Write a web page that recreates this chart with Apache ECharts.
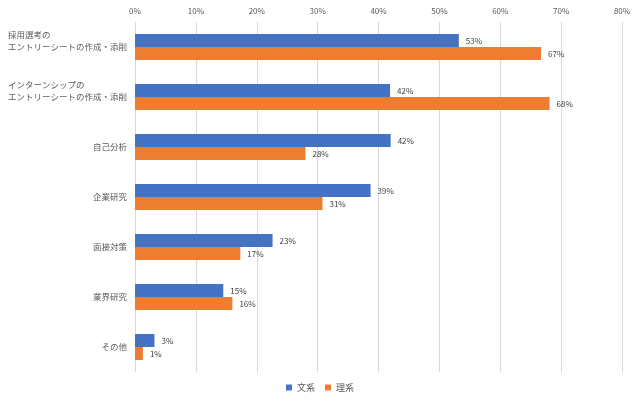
<!DOCTYPE html>
<html><head><meta charset="utf-8">
<script src="https://cdn.jsdelivr.net/npm/echarts@6/dist/echarts.min.js"></script>
<style>html,body{margin:0;padding:0;background:#fff}#c{width:640px;height:404px}</style>
</head><body><div id="c"></div>
<script>
const categories = [
  '採用選考の\nエントリーシートの作成・添削',
  'インターンシップの\nエントリーシートの作成・添削',
  '自己分析', '企業研究', '面接対策', '業界研究', 'その他'
];
const bunkei = [53.2, 41.9, 42.0, 38.7, 22.6, 14.5, 3.2];
const rikei = [66.7, 68.1, 28.0, 30.8, 17.3, 16.0, 1.3];
const seriesNames = ['文系', '理系'];
const xTicks = [0, 10, 20, 30, 40, 50, 60, 70, 80];

const font = '"Noto Sans CJK JP", "Noto Sans", sans-serif';
const chart = echarts.init(document.getElementById('c'));
const lbl = {
  show: true, position: 'right', distance: 7, color: '#404040', fontSize: 8,
  fontFamily: font, formatter: p => Math.round(p.value) + '%'
};
chart.setOption({
  animation: false,
  textStyle: { fontFamily: font },
  grid: { left: 135, right: 18, top: 22, bottom: 32, containLabel: false },
  legend: {
    bottom: 7, left: 'center', itemWidth: 6, itemHeight: 6, itemGap: 10,
    icon: 'rect', textStyle: { fontSize: 9, color: '#595959', fontFamily: font },
    data: seriesNames
  },
  xAxis: {
    type: 'value', position: 'top', min: xTicks[0], max: xTicks[xTicks.length - 1], interval: 10,
    axisLine: { show: false }, axisTick: { show: false },
    axisLabel: { formatter: '{value}%', fontSize: 8, color: '#595959', margin: 7, fontFamily: font },
    splitLine: { lineStyle: { color: '#d9d9d9', width: 1 } }
  },
  yAxis: {
    type: 'category', inverse: true, data: categories,
    axisLine: { show: false }, axisTick: { show: false },
    axisLabel: {
      fontSize: 8.5, color: '#595959', margin: 8, fontFamily: font, lineHeight: 12,
      formatter: v => {
        if (v.indexOf('\n') < 0) return v;
        return v.split('\n').map(s => '{l|' + s + '}').join('\n') + '\n{e| }';
      },
      rich: {
        l: { width: 119, align: 'left', fontSize: 8.5, color: '#595959', lineHeight: 12, fontFamily: font },
        e: { width: 119, fontSize: 8.5, lineHeight: 12 }
      }
    }
  },
  series: [
    { name: seriesNames[0], type: 'bar', data: bunkei, barGap: '0%', barCategoryGap: '48%',
      itemStyle: { color: '#4472C4' }, label: lbl },
    { name: seriesNames[1], type: 'bar', data: rikei, barGap: '0%', barCategoryGap: '48%',
      itemStyle: { color: '#ED7D31' }, label: lbl }
  ]
});
</script></body></html>
